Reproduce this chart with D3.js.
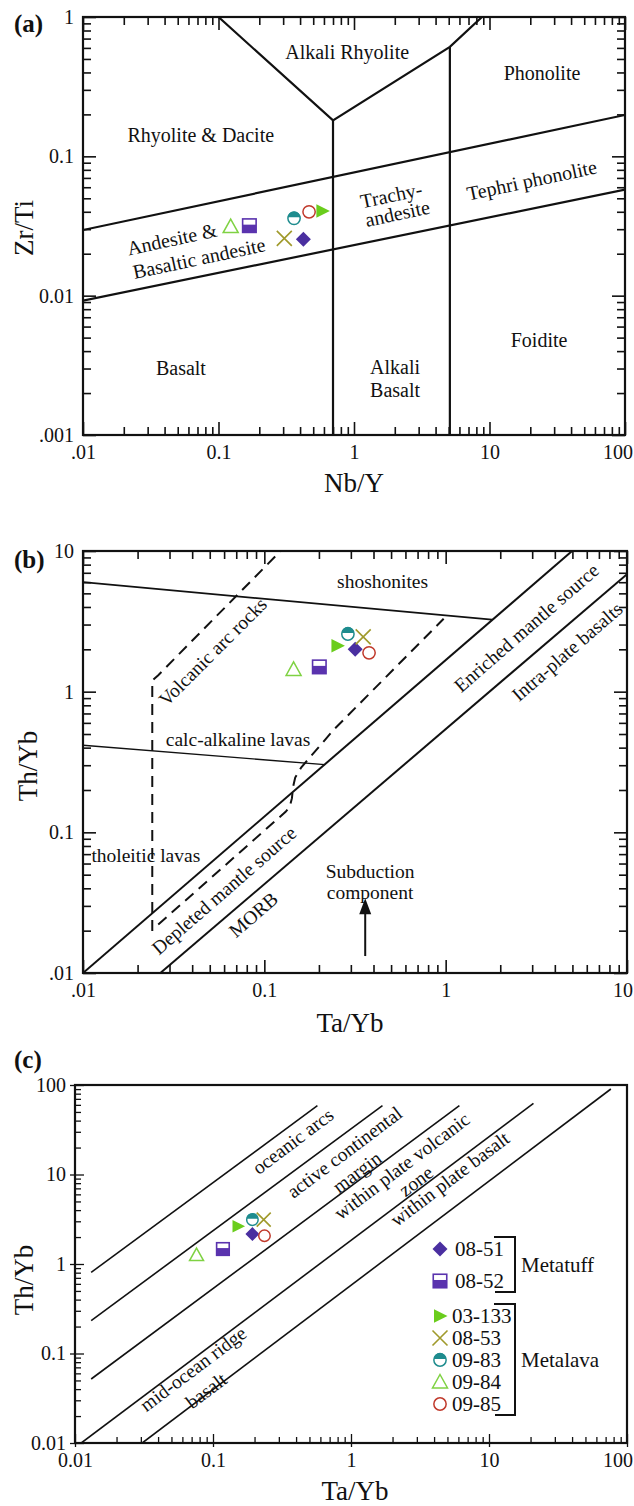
<!DOCTYPE html>
<html>
<head>
<meta charset="utf-8">
<script src="https://cdn.jsdelivr.net/npm/d3@7"></script>
<style>
  body { margin:0; background:#fff; }
  svg text { font-family: "Liberation Serif", "Times New Roman", serif; fill:#111; }
</style>
</head>
<body>
<script>
// samples, same order in every panel
var samples = ["08-51", "08-52", "03-133", "08-53", "09-83", "09-84", "09-85"];
var shapes  = ["diamond", "halfSquare", "triRight", "cross", "halfCircle", "triOpen", "circleOpen"];
var colors  = ["#4a2fa0", "#5a33ae", "#6acd1c", "#a09a2c", "#1e8c8e", "#7fd243", "#c0392b"];
var groups  = [{name: "Metatuff", members: [0, 1]}, {name: "Metalava", members: [2, 3, 4, 5, 6]}];

// (a) Nb/Y vs Zr/Ti
var nbY  = [0.423, 0.169, 0.584, 0.306, 0.361, 0.123, 0.466];
var zrTi = [0.0254, 0.0318, 0.0405, 0.0258, 0.0359, 0.0313, 0.0400];

// (b) Ta/Yb vs Th/Yb
var taYbB = [0.317, 0.201, 0.253, 0.351, 0.289, 0.145, 0.378];
var thYbB = [2.00, 1.50, 2.12, 2.45, 2.57, 1.44, 1.89];

// (c) Ta/Yb vs Th/Yb
var taYbC = [0.193, 0.118, 0.152, 0.233, 0.193, 0.076, 0.236];
var thYbC = [2.16, 1.47, 2.64, 3.13, 3.13, 1.26, 2.07];

// tick labels
var ticksAx = [".01", "0.1", "1", "10", "100"], ticksAy = [".001", "0.01", "0.1", "1"];
var ticksBx = [".01", "0.1", "1", "10"],        ticksBy = [".01", "0.1", "1", "10"];
var ticksCx = ["0.01", "0.1", "1", "10", "100"], ticksCy = ["0.01", "0.1", "1", "10", "100"];

// field boundaries (data units)
var linesA = [
  [[0.01, 0.0296], [100, 0.198]],
  [[0.01, 0.0092], [100, 0.0578]],
  [[0.7, 0.001], [0.7, 0.181]],
  [[5.1, 0.001], [5.1, 0.61]],
  [[0.1, 1], [0.7, 0.181], [5.1, 0.61], [8.8, 1]]
];
var linesB = [
  {pts: [[0.01, 6.0], [1.8, 3.25]], w: 1.7},
  {pts: [[0.01, 0.416], [0.215, 0.303]], w: 1.4},
  {pts: [[0.01, 0.01], [4.98, 10]], w: 2},
  {pts: [[0.0267, 0.01], [10, 6.84]], w: 2}
];
var dashedB = [
  [[0.0241, 0.0199], [0.0241, 1.2], [0.026, 1.31], [0.123, 10]],
  [[0.026, 0.0221], [0.131, 0.14], [0.138, 0.152], [0.142, 0.175], [0.144, 0.21],
   [0.148, 0.245], [0.16, 0.29], [0.241, 0.535], [0.975, 3.3]]
];
var arrowB = {x: 0.36, y0: 0.0132, y1: 0.034};
var linesC = [
  [[0.0131, 0.807], [0.571, 58.7]],
  [[0.0131, 0.233], [1.69, 58.7]],
  [[0.0131, 0.0519], [6.1, 58.7]],
  [[0.0111, 0.01], [21, 62.5]],
  [[0.0307, 0.01], [76.4, 90.2]]
];

// region names (data units)
var labelsA = [
  {t: "Alkali Rhyolite", x: 0.89, y: 0.56, r: 0},
  {t: "Phonolite", x: 24.4, y: 0.396, r: 0},
  {t: "Rhyolite & Dacite", x: 0.074, y: 0.142, r: 0},
  {t: "Tephri phonolite", x: 20.5, y: 0.0676, r: -12},
  {t: "Trachy-", x: 1.88, y: 0.0527, r: -12},
  {t: "andesite", x: 2.09, y: 0.039, r: -12},
  {t: "Andesite &", x: 0.0454, y: 0.0255, r: -12},
  {t: "Basaltic andesite", x: 0.0718, y: 0.0186, r: -12},
  {t: "Basalt", x: 0.0528, y: 0.00302, r: 0},
  {t: "Alkali", x: 2.01, y: 0.00307, r: 0},
  {t: "Basalt", x: 2.01, y: 0.0021, r: 0},
  {t: "Foidite", x: 23.2, y: 0.0048, r: 0}
];
var labelsB = [
  {t: "shoshonites", x: 0.449, y: 6.05, r: 0},
  {t: "Volcanic arc rocks", x: 0.052, y: 1.92, r: -45},
  {t: "Enriched mantle source", x: 2.79, y: 2.84, r: -41},
  {t: "Intra-plate basalts", x: 4.68, y: 1.92, r: -41},
  {t: "calc-alkaline lavas", x: 0.0716, y: 0.454, r: 0},
  {t: "tholeitic lavas", x: 0.0222, y: 0.068, r: 0},
  {t: "Depleted mantle source", x: 0.06, y: 0.0386, r: -41},
  {t: "MORB", x: 0.0871, y: 0.0259, r: -41},
  {t: "Subduction", x: 0.383, y: 0.0525, r: 0},
  {t: "component", x: 0.383, y: 0.0372, r: 0}
];
var labelsC = [
  {t: "oceanic arcs", x: 0.38, y: 23.5, r: -37},
  {t: "active continental", x: 0.899, y: 17.7, r: -37},
  {t: "margin", x: 1.107, y: 10.6, r: -37},
  {t: "within plate volcanic", x: 2.34, y: 12.4, r: -37},
  {t: "zone", x: 2.96, y: 8.4, r: -37},
  {t: "within plate basalt", x: 5.21, y: 8.9, r: -37},
  {t: "mid-ocean ridge", x: 0.0719, y: 0.0671, r: -37},
  {t: "basalt", x: 0.0893, y: 0.0384, r: -37}
];

var W = 634, H = 1506;
var svg = d3.select("body").append("svg").attr("width", W).attr("height", H);

function decades(dom) {
  var out = [];
  for (var e = Math.round(Math.log10(dom[0])); e <= Math.round(Math.log10(dom[1])); e++)
    out.push(+Math.pow(10, e).toPrecision(1));
  return out;
}
function minors(dom) {
  var out = [];
  for (var e = Math.round(Math.log10(dom[0])); e < Math.round(Math.log10(dom[1])); e++)
    for (var k = 2; k <= 9; k++) out.push(+(k * Math.pow(10, e)).toPrecision(1));
  return out;
}

function tickAxis(g, axis, pos, values, size, w) {
  g.append("g").attr("transform", pos)
    .call(axis.tickValues(values).tickSize(size).tickFormat(""))
    .call(function(s) {
      s.select(".domain").remove();
      s.selectAll("line").attr("stroke", "#111").attr("stroke-width", w);
    });
}

function labelAxis(g, axis, pos, values, labels, pad) {
  g.append("g").attr("transform", pos)
    .call(axis.tickValues(values).tickSize(0).tickPadding(pad)
      .tickFormat(function(d, i) { return labels[i]; }))
    .attr("font-size", 20).attr("font-family", "Liberation Serif, serif")
    .call(function(s) {
      s.select(".domain").remove();
      // keep the last label inside the page, as the original does
      s.selectAll("text").each(function() {
        var bb = this.getBBox(), tr = this.parentNode.transform.baseVal.consolidate();
        var right = bb.x + bb.width + (tr ? tr.matrix.e : 0);
        if (right > W - 1) d3.select(this).attr("x", -(right - (W - 1)));
      });
    });
}

function makePanel(id, box, xDom, yDom, xLab, yLab, mirror, major, minor) {
  var x = d3.scaleLog().domain(xDom).range([box.left, box.right]);
  var y = d3.scaleLog().domain(yDom).range([box.bottom, box.top]);
  var g = svg.append("g").attr("class", "panel-" + id);

  svg.append("clipPath").attr("id", "clip-" + id).append("rect")
    .attr("x", box.left).attr("y", box.top)
    .attr("width", box.right - box.left).attr("height", box.bottom - box.top);

  var xMaj = decades(xDom), xMin = minors(xDom), yMaj = decades(yDom), yMin = minors(yDom);
  var tw = mirror ? 1.6 : 1.3;

  tickAxis(g, d3.axisBottom(x), "translate(0," + box.bottom + ")", xMaj, -major, tw);
  tickAxis(g, d3.axisBottom(x), "translate(0," + box.bottom + ")", xMin, -minor, tw);
  tickAxis(g, d3.axisLeft(y), "translate(" + box.left + ",0)", yMaj, -major, tw);
  tickAxis(g, d3.axisLeft(y), "translate(" + box.left + ",0)", yMin, -minor, tw);
  if (mirror) {
    tickAxis(g, d3.axisTop(x), "translate(0," + box.top + ")", xMaj, -major, tw);
    tickAxis(g, d3.axisTop(x), "translate(0," + box.top + ")", xMin, -minor, tw);
    tickAxis(g, d3.axisRight(y), "translate(" + box.right + ",0)", yMaj, -major, tw);
    tickAxis(g, d3.axisRight(y), "translate(" + box.right + ",0)", yMin, -minor, tw);
  } else {
    tickAxis(g, d3.axisBottom(x), "translate(0," + box.bottom + ")", xMaj, 4, tw);
    tickAxis(g, d3.axisLeft(y), "translate(" + box.left + ",0)", yMaj, 5, tw);
  }

  labelAxis(g, d3.axisBottom(x), "translate(0," + box.bottom + ")", xMaj, xLab, 10);
  labelAxis(g, d3.axisLeft(y), "translate(" + box.left + ",0)", yMaj, yLab, 9);

  g.append("rect")
    .attr("x", box.left).attr("y", box.top)
    .attr("width", box.right - box.left).attr("height", box.bottom - box.top)
    .attr("fill", "none").attr("stroke", "#111").attr("stroke-width", 2.2);

  var plot = g.append("g").attr("clip-path", "url(#clip-" + id + ")");
  return {g: g, plot: plot, x: x, y: y};
}

function marker(g, shape, color, cx, cy, s) {
  var m = g.append("g").attr("transform", "translate(" + cx + "," + cy + ")");
  var h = s / 2;
  if (shape == "diamond") {
    m.append("path").attr("d", "M0," + (-h) + "L" + h + ",0L0," + h + "L" + (-h) + ",0Z").attr("fill", color);
  } else if (shape == "halfSquare") {
    var q = h * 0.9;
    m.append("rect").attr("x", -q).attr("y", -q).attr("width", 2 * q).attr("height", 2 * q)
      .attr("fill", "#fff").attr("stroke", color).attr("stroke-width", 1.6);
    m.append("rect").attr("x", -q).attr("y", -q + 0.85 * q).attr("width", 2 * q).attr("height", 1.15 * q)
      .attr("fill", color);
  } else if (shape == "triRight") {
    m.append("path").attr("d", "M" + (-h * 0.8) + "," + (-h * 0.9) + "L" + h + ",0L" + (-h * 0.8) + "," + (h * 0.9) + "Z")
      .attr("fill", color);
  } else if (shape == "cross") {
    m.append("path").attr("d", "M" + (-h) + "," + (-h) + "L" + h + "," + h + "M" + (-h) + "," + h + "L" + h + "," + (-h))
      .attr("stroke", color).attr("stroke-width", 1.6).attr("fill", "none");
  } else if (shape == "halfCircle") {
    var r = h * 0.82;
    m.append("circle").attr("r", r).attr("fill", "#fff").attr("stroke", color).attr("stroke-width", 1.5);
    m.append("path").attr("d", "M" + (-r) + ",-1A" + r + "," + r + " 0 0 1 " + r + ",-1Z").attr("fill", color);
  } else if (shape == "triOpen") {
    m.append("path").attr("d", "M0," + (-h) + "L" + h + "," + (h * 0.8) + "L" + (-h) + "," + (h * 0.8) + "Z")
      .attr("fill", "#fff").attr("stroke", color).attr("stroke-width", 1.5);
  } else if (shape == "circleOpen") {
    m.append("circle").attr("r", h * 0.82).attr("fill", "#fff").attr("stroke", color).attr("stroke-width", 1.5);
  }
}

function drawLabels(p, labels, size) {
  p.g.selectAll(null).data(labels).enter().append("text")
    .attr("transform", function(d) { return "translate(" + p.x(d.x) + "," + p.y(d.y) + ") rotate(" + d.r + ")"; })
    .attr("text-anchor", "middle").attr("dominant-baseline", "central")
    .attr("font-size", size)
    .text(function(d) { return d.t; });
}

function drawPoints(p, xs, ys, s) {
  samples.forEach(function(name, i) {
    marker(p.g, shapes[i], colors[i], p.x(xs[i]), p.y(ys[i]), s);
  });
}

function panelTag(t, x, y) {
  svg.append("text").attr("x", x).attr("y", y).attr("font-size", 25).attr("font-weight", "bold").text(t);
}
function xTitle(t, x, y) {
  svg.append("text").attr("x", x).attr("y", y).attr("text-anchor", "middle").attr("font-size", 27).text(t);
}
function yTitle(t, x, y) {
  svg.append("text").attr("transform", "translate(" + x + "," + y + ") rotate(-90)")
    .attr("text-anchor", "middle").attr("font-size", 27).text(t);
}

var line = function(p) {
  return d3.line().x(function(d) { return p.x(d[0]); }).y(function(d) { return p.y(d[1]); });
};

// ---------- (a) ----------
var pa = makePanel("a", {left: 83, right: 625, top: 17, bottom: 435}, [0.01, 100], [0.001, 1],
  ticksAx, ticksAy, true, 13, 8);
pa.plot.selectAll(null).data(linesA).enter().append("path")
  .attr("d", line(pa)).attr("fill", "none").attr("stroke", "#111").attr("stroke-width", 2.2);
drawLabels(pa, labelsA, 20);
drawPoints(pa, nbY, zrTi, 15);
panelTag("(a)", 14, 32);
xTitle("Nb/Y", 354, 492);
yTitle("Zr/Ti", 33, 228);

// ---------- (b) ----------
var pb = makePanel("b", {left: 83, right: 627, top: 551, bottom: 973}, [0.01, 10], [0.01, 10],
  ticksBx, ticksBy, true, 13, 8);
pb.plot.selectAll(null).data(linesB).enter().append("path")
  .attr("d", function(d) { return line(pb)(d.pts); })
  .attr("fill", "none").attr("stroke", "#111").attr("stroke-width", function(d) { return d.w; });
pb.plot.selectAll(null).data(dashedB).enter().append("path")
  .attr("d", line(pb)).attr("fill", "none").attr("stroke", "#111")
  .attr("stroke-width", 2).attr("stroke-dasharray", "11,7");
pb.g.append("line")
  .attr("x1", pb.x(arrowB.x)).attr("x2", pb.x(arrowB.x))
  .attr("y1", pb.y(arrowB.y0)).attr("y2", pb.y(arrowB.y1) + 12)
  .attr("stroke", "#111").attr("stroke-width", 2);
pb.g.append("path")
  .attr("d", "M" + pb.x(arrowB.x) + "," + pb.y(arrowB.y1) + "l-6,16h12z").attr("fill", "#111");
drawLabels(pb, labelsB, 19.5);
drawPoints(pb, taYbB, thYbB, 15);
panelTag("(b)", 14, 568);
xTitle("Ta/Yb", 350, 1032);
yTitle("Th/Yb", 37, 766);

// ---------- (c) ----------
var pc = makePanel("c", {left: 75, right: 627, top: 1085, bottom: 1443}, [0.01, 100], [0.01, 100],
  ticksCx, ticksCy, false, 9, 6);
pc.plot.selectAll(null).data(linesC).enter().append("path")
  .attr("d", line(pc)).attr("fill", "none").attr("stroke", "#111").attr("stroke-width", 1.6);
drawLabels(pc, labelsC, 19.5);
drawPoints(pc, taYbC, thYbC, 14);
panelTag("(c)", 14, 1068);
xTitle("Ta/Yb", 355, 1500);
yTitle("Th/Yb", 33, 1280);

// legend
var legend = svg.append("g").attr("class", "legend");
var legTop = [1249, 1316], legStep = [32, 22], legText = [455, 452];
groups.forEach(function(gr, gi) {
  var ys = gr.members.map(function(m, k) { return legTop[gi] + k * legStep[gi]; });
  gr.members.forEach(function(m, k) {
    marker(legend, shapes[m], colors[m], 440, ys[k], 15);
    legend.append("text").attr("x", legText[gi]).attr("y", ys[k])
      .attr("dominant-baseline", "central").attr("font-size", 21).text(samples[m]);
  });
  var t = ys[0] - 12, b = ys[ys.length - 1] + 11;
  legend.append("path")
    .attr("d", "M494," + t + "H515V" + b + "H495")
    .attr("fill", "none").attr("stroke", "#111").attr("stroke-width", 2);
  legend.append("text").attr("x", 521).attr("y", (t + b) / 2)
    .attr("dominant-baseline", "central").attr("font-size", 21).text(gr.name);
});
</script>
</body>
</html>
